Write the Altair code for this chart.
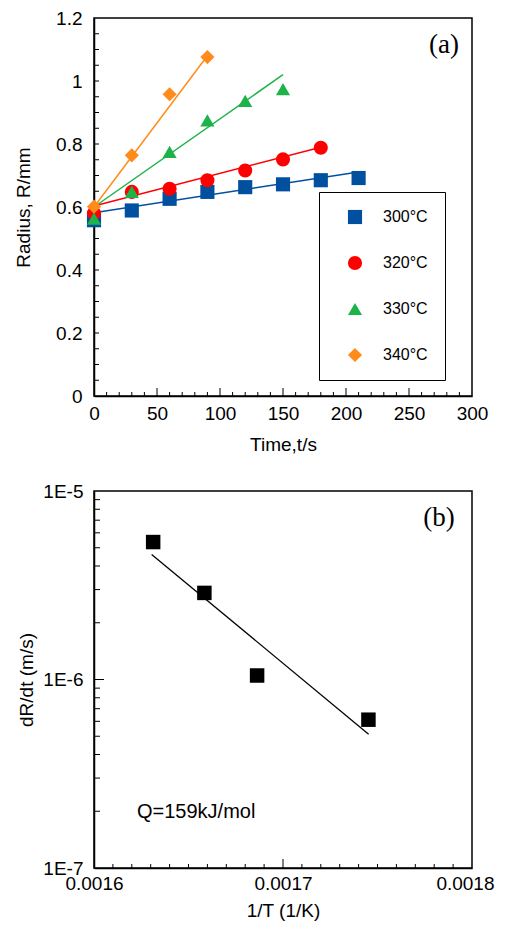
import altair as alt
import pandas as pd

FONT = "Liberation Sans"

# ---------------- Panel (a) data ----------------
series = ["300°C", "320°C", "330°C", "340°C"]
colors = ["#00509f", "#ff0000", "#1db34a", "#ff8c1a"]
shapes = ["square", "circle", "triangle-up", "diamond"]

t_300 = [0, 30, 60, 90, 120, 150, 180, 210]
r_300 = [0.558, 0.589, 0.626, 0.648, 0.663, 0.672, 0.685, 0.692]
t_320 = [0, 30, 60, 90, 120, 150, 180]
r_320 = [0.580, 0.648, 0.658, 0.685, 0.716, 0.751, 0.788]
t_330 = [0, 30, 60, 90, 120, 150]
r_330 = [0.563, 0.648, 0.775, 0.875, 0.937, 0.974]
t_340 = [0, 30, 60, 90]
r_340 = [0.601, 0.764, 0.958, 1.076]

fit_t_a = [[0, 210], [0, 180], [0, 150], [0, 90]]
fit_r_a = [[0.582, 0.711], [0.603, 0.790], [0.600, 1.020], [0.600, 1.080]]

x_ticks_a = [0, 50, 100, 150, 200, 250, 300]
y_ticks_a = [0, 0.2, 0.4, 0.6, 0.8, 1.0, 1.2]

# ---------------- Panel (b) data ----------------
inv_T = [0.0016313, 0.0016584, 0.0016863, 0.0017452]
rate = [5.36e-6, 2.88e-6, 1.05e-6, 6.12e-7]
fit_x_b = [0.0016305, 0.0017453]
fit_y_b = [4.61e-6, 5.12e-7]
x_ticks_b = [0.0016, 0.0017, 0.0018]
y_ticks_b = [1e-7, 1e-6, 1e-5]
y_tick_labels_b = ["1E-7", "1E-6", "1E-5"]
annotation_b = "Q=159kJ/mol"

# ---------------- build tables ----------------
pts_a = pd.DataFrame(
    [{"t": t, "r": r, "series": s}
     for s, ts, rs in zip(series, [t_300, t_320, t_330, t_340], [r_300, r_320, r_330, r_340])
     for t, r in zip(ts, rs)]
)
fit_a = pd.DataFrame(
    [{"t": t, "r": r, "series": s}
     for s, ts, rs in zip(series, fit_t_a, fit_r_a)
     for t, r in zip(ts, rs)]
)
minor_y_a = pd.DataFrame({"r": [round(0.05 * i, 2) for i in range(1, 24)]})
minor_x_a = pd.DataFrame({"t": [v for v in range(10, 300, 10) if v % 50 != 0]})
major_x_a = pd.DataFrame({"t": [50, 100, 150, 200, 250]})

pts_b = pd.DataFrame({"x": inv_T, "y": rate})
fit_b = pd.DataFrame({"x": fit_x_b, "y": fit_y_b})
minor_y_b = pd.DataFrame({"y": [m * 10.0 ** e for e in (-7, -6) for m in range(2, 10)]})
major_y_b = pd.DataFrame({"y": [1e-6]})
minor_x_b = pd.DataFrame({"x": [0.0016 + 0.00001 * i for i in range(1, 20) if i != 10]})
major_x_b = pd.DataFrame({"x": [0.0017]})

W, H_A, H_B = 378, 378, 377

# ---------------- encodings (a) ----------------
sx_a = alt.Scale(domain=[0, 300], nice=False, zero=False)
sy_a = alt.Scale(domain=[0, 1.2], nice=False, zero=False)
ax_x_a = alt.Axis(values=x_ticks_a, format="d", labelFlush=False, labelPadding=8, titlePadding=12)
ax_y_a = alt.Axis(values=y_ticks_a, format="~g", labelFlush=False, labelPadding=12, titlePadding=22)


def xa(field):
    return alt.X(f"{field}:Q", scale=sx_a, axis=ax_x_a, title="Time,t/s")


def ya(field):
    return alt.Y(f"{field}:Q", scale=sy_a, axis=ax_y_a, title="Radius, R/mm")


legend_a = alt.Legend(
    orient="none", legendX=225, legendY=174, title=None,
    strokeColor="black", fillColor="white", padding=17, rowPadding=30,
    symbolSize=200, symbolOffset=11, labelOffset=20, labelFontSize=16,
    labelFont=FONT, labelColor="black",
)

lines_a = alt.Chart(fit_a).mark_line(strokeWidth=1.5).encode(
    x=xa("t"), y=ya("r"),
    stroke=alt.Stroke("series:N", scale=alt.Scale(domain=series, range=colors), legend=None),
    detail="series:N",
)
points_a = alt.Chart(pts_a).mark_point(filled=True, size=200, opacity=1).encode(
    x=xa("t"), y=ya("r"),
    color=alt.Color("series:N", scale=alt.Scale(domain=series, range=colors), legend=legend_a),
    shape=alt.Shape("series:N", scale=alt.Scale(domain=series, range=shapes), legend=legend_a),
)
ytick_a = alt.Chart(minor_y_a).mark_rule(color="black", strokeWidth=1).encode(
    y=ya("r"), x=alt.value(0), x2=alt.value(5)
)
xtick_a = alt.Chart(minor_x_a).mark_rule(color="black", strokeWidth=1).encode(
    x=xa("t"), y=alt.value(H_A), y2=alt.value(H_A - 4)
)
xtick_major_a = alt.Chart(major_x_a).mark_rule(color="black", strokeWidth=1).encode(
    x=xa("t"), y=alt.value(H_A), y2=alt.value(H_A - 8)
)
label_a = alt.Chart(pd.DataFrame({"s": ["(a)"]})).mark_text(
    font="Liberation Serif", fontSize=27, color="black", align="center", baseline="middle"
).encode(text="s:N", x=alt.value(350), y=alt.value(27))

top = alt.layer(ytick_a, xtick_a, xtick_major_a, lines_a, points_a, label_a).properties(
    width=W, height=H_A
)

# ---------------- encodings (b) ----------------
sx_b = alt.Scale(domain=[0.0016, 0.0018], nice=False, zero=False)
sy_b = alt.Scale(type="log", domain=[1e-7, 1e-5], nice=False)
label_expr_b = " : ".join(
    f"datum.value < {v * 1.5} ? '{lab}'" for v, lab in zip(y_ticks_b[:-1], y_tick_labels_b[:-1])
) + f" : '{y_tick_labels_b[-1]}'"
last_test = f"datum.value > {x_ticks_b[-1] * 0.999}"
ax_x_b = alt.Axis(
    values=x_ticks_b, format="~g", labelFlush=False, labelPadding=6, titlePadding=8,
    labelAlign={"condition": {"test": last_test, "value": "right"}, "value": "center"},
    labelOffset={"condition": {"test": last_test, "value": 22}, "value": 0},
)
ax_y_b = alt.Axis(values=y_ticks_b, labelExpr=label_expr_b, labelFlush=False, labelPadding=11, titlePadding=6)


def xb(field):
    return alt.X(f"{field}:Q", scale=sx_b, axis=ax_x_b, title="1/T  (1/K)")


def yb(field):
    return alt.Y(f"{field}:Q", scale=sy_b, axis=ax_y_b, title="dR/dt (m/s)")


line_b = alt.Chart(fit_b).mark_line(color="black", strokeWidth=1.3).encode(x=xb("x"), y=yb("y"))
points_b = alt.Chart(pts_b).mark_point(shape="square", filled=True, size=210, color="black", opacity=1).encode(
    x=xb("x"), y=yb("y")
)
ytick_b = alt.Chart(minor_y_b).mark_rule(color="black", strokeWidth=1).encode(
    y=yb("y"), x=alt.value(0), x2=alt.value(6)
)
ytick_major_b = alt.Chart(major_y_b).mark_rule(color="black", strokeWidth=1).encode(
    y=yb("y"), x=alt.value(0), x2=alt.value(10)
)
xtick_b = alt.Chart(minor_x_b).mark_rule(color="black", strokeWidth=1).encode(
    x=xb("x"), y=alt.value(H_B), y2=alt.value(H_B - 4)
)
xtick_major_b = alt.Chart(major_x_b).mark_rule(color="black", strokeWidth=1).encode(
    x=xb("x"), y=alt.value(H_B), y2=alt.value(H_B - 9)
)
label_b = alt.Chart(pd.DataFrame({"s": ["(b)"]})).mark_text(
    font="Liberation Serif", fontSize=27, color="black", align="center", baseline="middle"
).encode(text="s:N", x=alt.value(345), y=alt.value(27))
text_b = alt.Chart(pd.DataFrame({"s": [annotation_b]})).mark_text(
    font=FONT, fontSize=20, color="black", align="left", baseline="middle"
).encode(text="s:N", x=alt.value(43), y=alt.value(321))

bottom = alt.layer(ytick_b, ytick_major_b, xtick_b, xtick_major_b, line_b, points_b, label_b, text_b).properties(
    width=W, height=H_B
)

chart = (
    alt.vconcat(top, bottom, spacing=26)
    .resolve_scale(color="independent", shape="independent")
    .resolve_legend(color="independent", shape="independent")
    .properties(padding={"left": 5, "top": 0, "right": 0, "bottom": 0})
    .configure_axis(
        labelFont=FONT, titleFont=FONT, labelFontSize=19, titleFontSize=19,
        titleFontWeight="normal", labelColor="black", titleColor="black",
        domainColor="black", domainWidth=1.5, ticks=False, grid=False,
    )
    .configure_view(stroke="black", strokeWidth=1.5)
)

chart.save("out.html", embed_options={"renderer": "svg", "actions": False})
